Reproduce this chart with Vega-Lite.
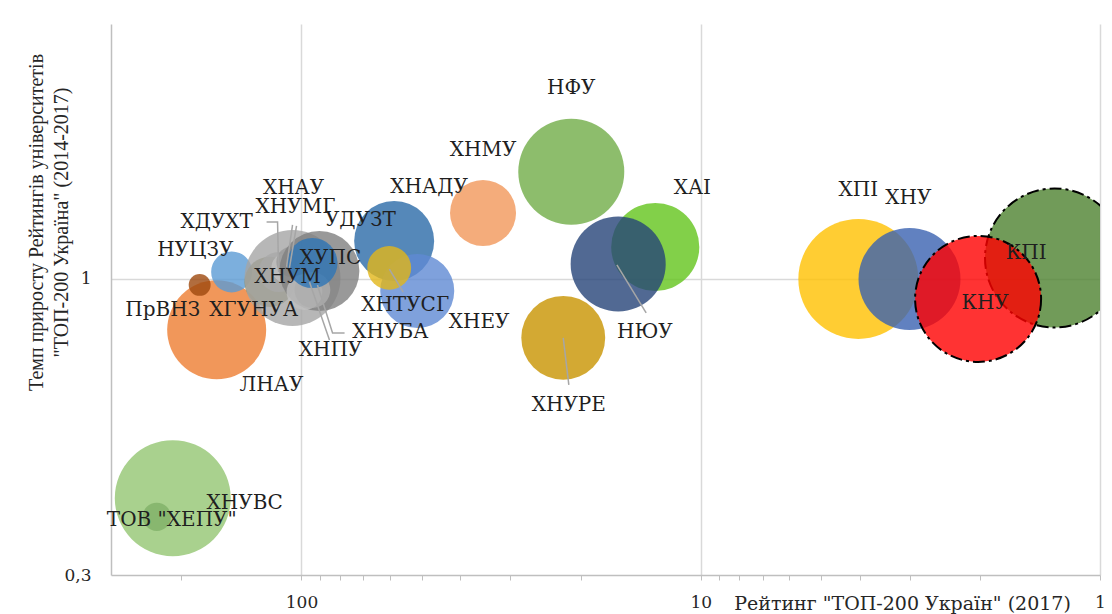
{
  "$schema": "https://vega.github.io/schema/vega-lite/v6.json",
  "width": 989,
  "height": 551,
  "autosize": "none",
  "padding": {"left": 111, "top": 24, "right": 12, "bottom": 39},
  "background": "white",
  "config": {"view": {"stroke": null}},
  "datasets": {
    "bubbles": [
      {"n": 1, "name": "ХНУВС", "x": 210.1, "y": 0.410, "s": 33.6},
      {"n": 2, "name": "ТОВ \"ХЕПУ\"", "x": 230.4, "y": 0.380, "s": 2.0},
      {"n": 3, "name": "ЛНАУ", "x": 163.1, "y": 0.813, "s": 24.5},
      {"n": 4, "name": "ПрВНЗ", "x": 179.9, "y": 0.976, "s": 1.2},
      {"n": 5, "name": "НУЦЗУ", "x": 149.6, "y": 1.029, "s": 4.2},
      {"n": 6, "name": "ХНУМ", "x": 120.2, "y": 0.988, "s": 6.3},
      {"n": 7, "name": "ХДУХТ", "x": 114.1, "y": 1.029, "s": 4.0},
      {"n": 8, "name": "ХГУНУА", "x": 105.3, "y": 1.004, "s": 23.0},
      {"n": 9, "name": "ХНАУ", "x": 109.0, "y": 1.046, "s": 2.3},
      {"n": 10, "name": "ХНУМГ", "x": 105.9, "y": 1.072, "s": 2.3},
      {"n": 11, "name": "УДУЗТ", "x": 90.2, "y": 1.033, "s": 16.0},
      {"n": 12, "name": "ХНПУ", "x": 98.3, "y": 0.948, "s": 3.2},
      {"n": 13, "name": "ХНУБА", "x": 93.9, "y": 0.956, "s": 3.2},
      {"n": 14, "name": "ХУПС", "x": 93.9, "y": 1.067, "s": 6.3},
      {"n": 15, "name": "ХНАДУ", "x": 58.6, "y": 1.167, "s": 16.0},
      {"n": 16, "name": "ХНЕУ", "x": 51.3, "y": 0.952, "s": 13.7},
      {"n": 17, "name": "ХНТУСГ", "x": 60.3, "y": 1.046, "s": 4.8},
      {"n": 18, "name": "ХНМУ", "x": 35.1, "y": 1.308, "s": 10.9},
      {"n": 19, "name": "НФУ", "x": 21.1, "y": 1.546, "s": 28.1},
      {"n": 20, "name": "ХНУРЕ", "x": 22.1, "y": 0.787, "s": 17.6},
      {"n": 21, "name": "ХАІ", "x": 13.0, "y": 1.139, "s": 19.4},
      {"n": 22, "name": "НЮУ", "x": 16.1, "y": 1.063, "s": 22.6},
      {"n": 23, "name": "ХПІ", "x": 4.03, "y": 1.0, "s": 36.0},
      {"n": 24, "name": "ХНУ", "x": 3.0, "y": 1.0, "s": 26.0},
      {"n": 25, "name": "КПІ", "x": 1.30, "y": 1.089, "s": 48.3},
      {"n": 26, "name": "КНУ", "x": 2.02, "y": 0.922, "s": 39.7}
    ],
    "labels": [
      {"name": "ХНУВС", "x": 138.8, "y": 0.402},
      {"name": "ТОВ \"ХЕПУ\"", "x": 211.3, "y": 0.375},
      {"name": "ЛНАУ", "x": 118.9, "y": 0.650},
      {"name": "ПрВНЗ", "x": 222.6, "y": 0.881},
      {"name": "НУЦЗУ", "x": 184.5, "y": 1.125},
      {"name": "ХНУМ", "x": 108.4, "y": 1.008},
      {"name": "ХДУХТ", "x": 163.1, "y": 1.261},
      {"name": "ХГУНУА", "x": 131.8, "y": 0.881},
      {"name": "ХНАУ", "x": 104.7, "y": 1.448},
      {"name": "ХНУМГ", "x": 103.5, "y": 1.340},
      {"name": "УДУЗТ", "x": 71.2, "y": 1.271},
      {"name": "ХНПУ", "x": 84.6, "y": 0.749},
      {"name": "ХНУБА", "x": 59.9, "y": 0.806},
      {"name": "ХУПС", "x": 84.6, "y": 1.089},
      {"name": "ХНАДУ", "x": 47.9, "y": 1.454},
      {"name": "ХНЕУ", "x": 35.9, "y": 0.839},
      {"name": "ХНТУСГ", "x": 55.0, "y": 0.900},
      {"name": "ХНМУ", "x": 35.1, "y": 1.690},
      {"name": "НФУ", "x": 21.1, "y": 2.175},
      {"name": "ХНУРЕ", "x": 21.4, "y": 0.599},
      {"name": "ХАІ", "x": 10.5, "y": 1.448},
      {"name": "НЮУ", "x": 13.8, "y": 0.806},
      {"name": "ХПІ", "x": 4.03, "y": 1.437},
      {"name": "ХНУ", "x": 3.02, "y": 1.390},
      {"name": "КПІ", "x": 1.53, "y": 1.111},
      {"name": "КНУ", "x": 1.94, "y": 0.907}
    ],
    "leaders": [
      {"name": "НЮУ", "seq": 1, "x": 16.22, "y": 1.059},
      {"name": "НЮУ", "seq": 2, "x": 13.7, "y": 0.871},
      {"name": "ХНУРЕ", "seq": 1, "x": 22.1, "y": 0.787},
      {"name": "ХНУРЕ", "seq": 2, "x": 21.4, "y": 0.650},
      {"name": "ХНТУСГ", "seq": 1, "x": 60.26, "y": 1.041},
      {"name": "ХНТУСГ", "seq": 2, "x": 55.6, "y": 0.948},
      {"name": "ХДУХТ", "seq": 1, "x": 114.1, "y": 1.029},
      {"name": "ХДУХТ", "seq": 2, "x": 114.8, "y": 1.261},
      {"name": "ХДУХТ", "seq": 3, "x": 122.3, "y": 1.261},
      {"name": "ХНАУ", "seq": 1, "x": 109.0, "y": 1.050},
      {"name": "ХНАУ", "seq": 2, "x": 105.3, "y": 1.246},
      {"name": "ХНУМГ", "seq": 1, "x": 107.2, "y": 1.046},
      {"name": "ХНУМГ", "seq": 2, "x": 102.9, "y": 1.241},
      {"name": "ХНУБА", "seq": 1, "x": 91.2, "y": 0.976},
      {"name": "ХНУБА", "seq": 2, "x": 83.6, "y": 0.803},
      {"name": "ХНУБА", "seq": 3, "x": 78.0, "y": 0.803},
      {"name": "ХНПУ", "seq": 1, "x": 95.5, "y": 0.988},
      {"name": "ХНПУ", "seq": 2, "x": 85.1, "y": 0.780}
    ]
  },
  "encoding": {
    "x": {
      "field": "x",
      "type": "quantitative",
      "scale": {"type": "log", "domain": [1, 300], "reverse": true, "nice": false},
      "axis": {
        "values": [200, 100, 90, 80, 70, 60, 50, 40, 30, 20, 10, 9, 8, 7, 6, 5, 4, 3, 2, 1],
        "labelExpr": "datum.value == 100 ? '100' : datum.value == 10 ? '10' : datum.value == 1 ? '1' : ''",
        "labelFont": "DejaVu Serif",
        "labelFontSize": 17,
        "labelColor": "#262626",
        "labelFlush": false,
        "labelOverlap": false,
        "labelPadding": 14,
        "grid": true,
        "gridColor": "#d9d9d9",
        "gridWidth": 1.5,
        "gridOpacity": {"condition": {"test": "datum.value == 100 || datum.value == 10 || datum.value == 1", "value": 1}, "value": 0},
        "tickColor": "#bfbfbf",
        "tickSize": 5,
        "domainColor": "#bfbfbf",
        "domainWidth": 1.5,
        "title": "Рейтинг \"ТОП-200  Україн\" (2017)",
        "titleFont": "DejaVu Serif",
        "titleFontSize": 19,
        "titleFontWeight": "normal",
        "titleColor": "#262626",
        "titleX": 791,
        "titleY": 28,
        "titleAlign": "center",
        "titleBaseline": "middle",
        "titleAngle": 0
      }
    },
    "y": {
      "field": "y",
      "type": "quantitative",
      "scale": {"type": "log", "domain": [0.3, 2.82], "nice": false},
      "axis": {
        "values": [0.3, 1],
        "labelExpr": "datum.value == 1 ? '1' : '0,3'",
        "labelFont": "DejaVu Serif",
        "labelFontSize": 17,
        "labelColor": "#262626",
        "labelPadding": 20,
        "ticks": false,
        "grid": true,
        "gridColor": "#d9d9d9",
        "gridWidth": 1.5,
        "gridOpacity": {"condition": {"test": "datum.value == 1", "value": 1}, "value": 0},
        "domainColor": "#bfbfbf",
        "domainWidth": 1.5,
        "title": ["Темп приросту Рейтингів університетів", "\"ТОП-200 Україна\" (2014-2017)"],
        "titleFont": "Liberation Serif",
        "titleFontSize": 20,
        "titleFontWeight": "normal",
        "titleColor": "#262626",
        "titleX": -85,
        "titleY": 198,
        "titleAngle": 270,
        "titleAlign": "center",
        "titleBaseline": "top",
        "titleLineHeight": 25
      }
    }
  },
  "layer": [
    {
      "data": {"name": "bubbles"},
      "mark": {"type": "circle", "clip": true, "fillOpacity": 0.8, "stroke": "black", "strokeWidth": 2, "strokeDash": [12, 4, 3, 4]},
      "encoding": {
        "color": {
          "field": "name",
          "type": "nominal",
          "legend": null,
          "scale": {
            "domain": ["ХНУВС", "ТОВ \"ХЕПУ\"", "ЛНАУ", "ПрВНЗ", "НУЦЗУ", "ХНУМ", "ХДУХТ", "ХГУНУА", "ХНАУ", "ХНУМГ", "УДУЗТ", "ХНПУ", "ХНУБА", "ХУПС", "ХНАДУ", "ХНЕУ", "ХНТУСГ", "ХНМУ", "НФУ", "ХНУРЕ", "ХАІ", "НЮУ", "ХПІ", "ХНУ", "КПІ", "КНУ"],
            "range": ["#94c572", "#80b068", "#ed7d31", "#9e480e", "#5b9bd5", "#8b8b55", "#b7b7b7", "#a5a5a5", "#c0c0c0", "#999999", "#7f7f7f", "#bfbfbf", "#aeaeae", "#2e75b6", "#2a6aa8", "#5f89d3", "#e2b719", "#f1975a", "#70ad47", "#c89400", "#63c41c", "#264478", "#ffc000", "#3a62b0", "#4e8230", "#ff0000"]
          }
        },
        "size": {"field": "s", "type": "quantitative", "legend": null, "scale": {"type": "linear", "domain": [0, 50], "range": [0, 20000]}},
        "order": {"field": "n", "type": "quantitative"},
        "strokeOpacity": {"condition": {"test": "datum.name === 'КНУ' || datum.name === 'КПІ'", "value": 1}, "value": 0}
      }
    },
    {
      "data": {"name": "leaders"},
      "mark": {"type": "line", "color": "#a6a6a6", "strokeWidth": 1.5},
      "encoding": {
        "detail": {"field": "name", "type": "nominal"},
        "order": {"field": "seq", "type": "quantitative"}
      }
    },
    {
      "data": {"name": "labels"},
      "mark": {"type": "text", "font": "DejaVu Serif", "fontSize": 20, "color": "#1f1f1f", "align": "center", "baseline": "middle"},
      "encoding": {
        "text": {"field": "name", "type": "nominal"}
      }
    }
  ]
}
